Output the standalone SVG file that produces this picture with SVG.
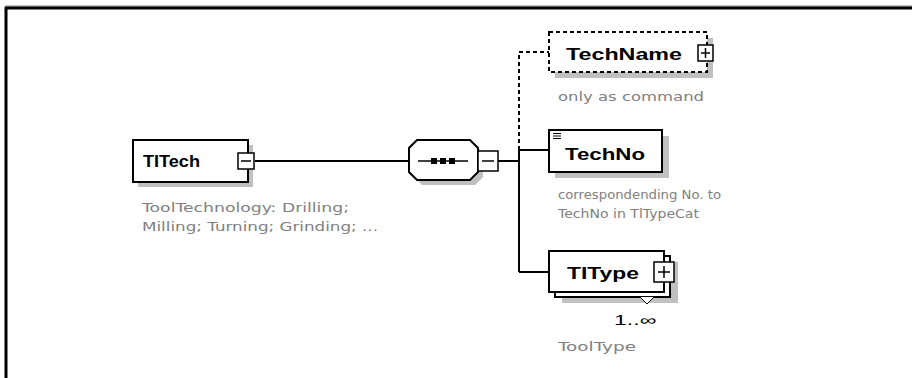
<svg xmlns="http://www.w3.org/2000/svg" width="912" height="378" viewBox="0 0 912 378">
<style>
.box{fill:#fff;stroke:#000;stroke-width:2}
.shadow{fill:#c0c0c0}
.ln{stroke:#000;stroke-width:2;fill:none}
.dash{stroke:#000;stroke-width:2;fill:none;stroke-dasharray:4,3}
.lbl{font-family:"Liberation Sans",Arial,sans-serif;font-weight:bold;font-size:17px;fill:#000}
.ann{font-family:"DejaVu Sans",Verdana,sans-serif;font-size:12px;fill:#808080}
.card{font-family:"Liberation Sans",Arial,sans-serif;font-size:14px;fill:#000}
.sq{fill:#fff;stroke:#000;stroke-width:1.5}
</style>
<rect x="0" y="0" width="912" height="378" fill="#fff"/>
<g id="frame">
<line x1="5" y1="6" x2="912" y2="6" stroke="#808080" stroke-width="1"/>
<line x1="5" y1="8" x2="912" y2="8" stroke="#000" stroke-width="3"/>
<line x1="6" y1="7" x2="6" y2="378" stroke="#000" stroke-width="3"/>
</g>
<g id="connectors">
<line class="ln" x1="255" y1="161" x2="410" y2="161"/>
<line class="ln" x1="498" y1="161" x2="519" y2="161"/>
<line class="ln" x1="519" y1="150" x2="519" y2="272"/>
<line class="ln" x1="519" y1="150" x2="549" y2="150"/>
<line class="ln" x1="519" y1="272" x2="549" y2="272"/>
<path class="dash" d="M519,150 V52 H549"/>
</g>
<g id="TITech">
<rect class="shadow" x="138" y="145" width="115" height="42"/>
<rect class="box" x="133" y="140" width="115" height="42"/>
<text class="lbl" x="143" y="167" textLength="57" lengthAdjust="spacingAndGlyphs">TITech</text>
<rect class="sq" x="238" y="153" width="16" height="16"/>
<line x1="241" y1="161" x2="251" y2="161" stroke="#000" stroke-width="1.5"/>
<text class="ann" x="142" y="212" textLength="207" lengthAdjust="spacingAndGlyphs">ToolTechnology: Drilling;</text>
<text class="ann" x="142" y="231" textLength="236" lengthAdjust="spacingAndGlyphs">Milling; Turning; Grinding; ...</text>
</g>
<g id="sequence">
<path class="shadow" d="M422,145 H475 L483,153 V177 L475,185 H422 L414,177 V153 Z"/>
<path class="box" d="M417,140 H470 L478,148 V172 L470,180 H417 L409,172 V148 Z"/>
<line x1="418" y1="161" x2="468" y2="161" stroke="#000" stroke-width="1.5"/>
<rect x="431" y="158" width="6" height="6" fill="#000"/>
<rect x="440" y="158" width="6" height="6" fill="#000"/>
<rect x="449" y="158" width="6" height="6" fill="#000"/>
<rect class="sq" x="478" y="151" width="20" height="20"/>
<line x1="482" y1="161" x2="494" y2="161" stroke="#000" stroke-width="1.5"/>
</g>
<g id="TechName">
<rect class="shadow" x="555" y="38" width="158" height="40"/>
<rect x="549" y="32" width="158" height="40" fill="#fff"/>
<rect class="dash" x="549" y="32" width="158" height="40"/>
<text class="lbl" x="566" y="60" textLength="116" lengthAdjust="spacingAndGlyphs">TechName</text>
<rect class="sq" x="698" y="45" width="15" height="16"/>
<line x1="701" y1="53" x2="710" y2="53" stroke="#000" stroke-width="1.5"/>
<line x1="705.5" y1="48" x2="705.5" y2="58" stroke="#000" stroke-width="1.5"/>
<text class="ann" x="558" y="101" textLength="146" lengthAdjust="spacingAndGlyphs">only as command</text>
</g>
<g id="TechNo">
<rect class="shadow" x="555" y="136" width="114" height="42"/>
<rect class="box" x="549" y="130" width="113" height="42"/>
<line x1="553" y1="133.5" x2="561" y2="133.5" stroke="#000" stroke-width="1"/>
<line x1="553" y1="136" x2="561" y2="136" stroke="#000" stroke-width="1"/>
<line x1="553" y1="138.5" x2="561" y2="138.5" stroke="#000" stroke-width="1"/>
<text class="lbl" x="565" y="160" textLength="80" lengthAdjust="spacingAndGlyphs">TechNo</text>
<text class="ann" x="558" y="199" textLength="163" lengthAdjust="spacingAndGlyphs">correspondending No. to</text>
<text class="ann" x="558" y="218" textLength="141" lengthAdjust="spacingAndGlyphs">TechNo in TlTypeCat</text>
</g>
<g id="TIType">
<rect class="shadow" x="562" y="262" width="116" height="41"/>
<rect class="box" x="555" y="256" width="115" height="41"/>
<rect class="box" x="549" y="251" width="115" height="41"/>
<text class="lbl" x="567" y="279" textLength="72" lengthAdjust="spacingAndGlyphs">TIType</text>
<rect class="sq" x="654" y="262" width="20" height="20"/>
<line x1="658" y1="272" x2="670" y2="272" stroke="#000" stroke-width="1.5"/>
<line x1="664" y1="266" x2="664" y2="278" stroke="#000" stroke-width="1.5"/>
<path d="M640,297 L647,304 L654,297" fill="#fff" stroke="#000" stroke-width="1"/>
<text class="card" x="614" y="325" textLength="42" lengthAdjust="spacingAndGlyphs">1..∞</text>
<text class="ann" x="558" y="351" textLength="78" lengthAdjust="spacingAndGlyphs">ToolType</text>
</g>
</svg>
